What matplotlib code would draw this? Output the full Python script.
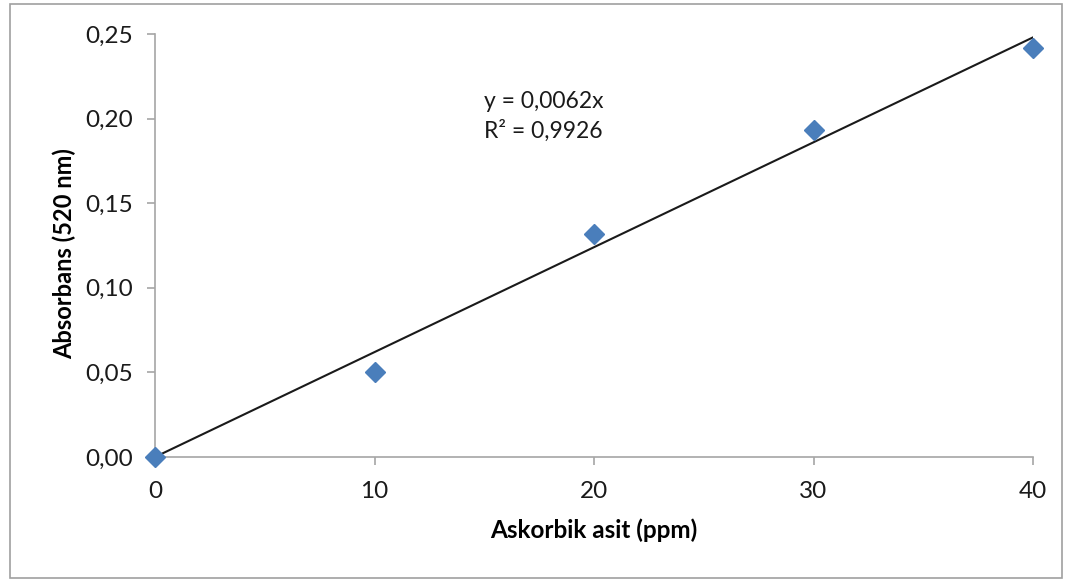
import matplotlib.pyplot as plt
from matplotlib.patches import Rectangle
from matplotlib.ticker import FuncFormatter

# data
conc = [0, 10, 20, 30, 40]
absorbans = [0.0, 0.050, 0.132, 0.193, 0.242]
slope = 0.0062
r2 = 0.9926

plt.rcParams['font.family'] = ['Lato', 'DejaVu Sans']

fig = plt.figure(figsize=(10.66, 5.81), dpi=100)
ax = fig.add_axes([155 / 1066, 1 - 457 / 581, (1033 - 155) / 1066, (457 - 34) / 581])

# outer chart frame
fig.patches.append(Rectangle((10 / 1066, 3 / 581), 1052 / 1066, 574 / 581,
                             transform=fig.transFigure, fill=False,
                             edgecolor='#A0A0A0', lw=1.2))

fit_x = [conc[0], conc[-1]]
fit_y = [slope * v for v in fit_x]
ax.plot(fit_x, fit_y, color='#1a1a1a', lw=1.5, zorder=2)
ax.plot(conc, absorbans, 'D', color='#4A7EBB', markersize=10, zorder=3,
        clip_on=False)

ax.set_xlim(0, 40)
ax.set_ylim(0, 0.25)
ax.set_xticks([0, 10, 20, 30, 40])
ax.set_yticks([0, 0.05, 0.10, 0.15, 0.20, 0.25])
ax.yaxis.set_major_formatter(FuncFormatter(lambda v, p: f'{v:.2f}'.replace('.', ',')))

for s in ['top', 'right']:
    ax.spines[s].set_visible(False)
for s in ['left', 'bottom']:
    ax.spines[s].set_color('#A6A6A6')
    ax.spines[s].set_linewidth(1.2)
ax.tick_params(axis='both', colors='#A6A6A6', labelcolor='#1a1a1a',
               labelsize=17.5, length=6, width=1.2, direction='out')
ax.tick_params(axis='x', pad=11)
ax.tick_params(axis='y', pad=10)

ax.set_xlabel('Askorbik asit (ppm)', fontsize=17.5, fontweight='bold', labelpad=12)
ax.set_ylabel('Absorbans (520 nm)', fontsize=17, fontweight='bold')
ax.yaxis.set_label_coords(-0.09, 0.482)

ax.text(15, 0.2065, f'y = {slope:.4f}x'.replace('.', ','), fontsize=16.5, color='#1a1a1a')
ax.text(15, 0.1885, f'R² = {r2:.4f}'.replace('.', ','), fontsize=16.5, color='#1a1a1a')

fig.savefig('out.png', dpi=100)
